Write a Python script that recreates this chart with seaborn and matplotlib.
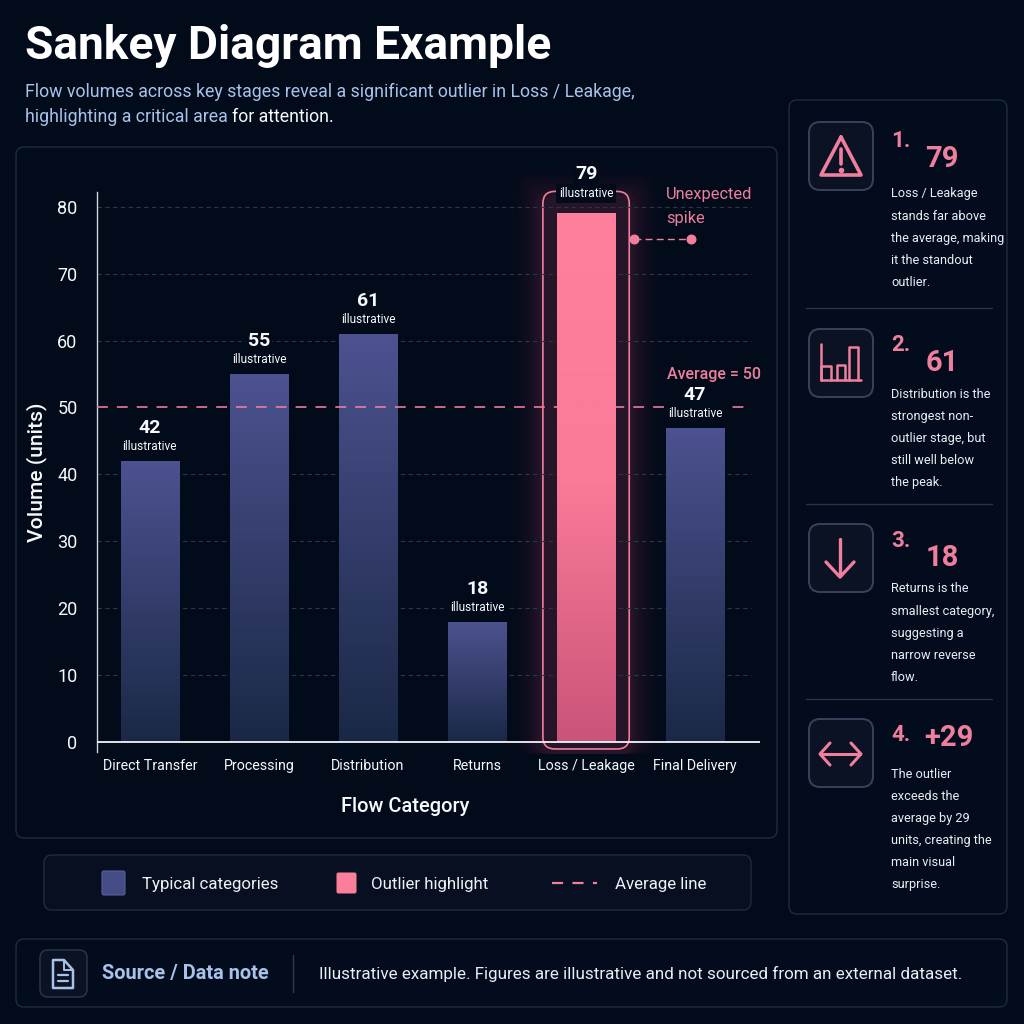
import numpy as np
import pandas as pd
import matplotlib
matplotlib.use("Agg")
import matplotlib.pyplot as plt
from matplotlib.colors import LinearSegmentedColormap
from matplotlib.lines import Line2D
from matplotlib.patches import FancyBboxPatch, Polygon
import seaborn as sns

# Chart data
categories = ["Direct Transfer", "Processing", "Distribution", "Returns", "Loss / Leakage", "Final Delivery"]
volumes = [42, 55, 61, 18, 79, 47]
average = 50
outlier_category = "Loss / Leakage"
y_ticks = [0, 10, 20, 30, 40, 50, 60, 70, 80]

# Side-card content
card_numbers = ["1.", "2.", "3.", "4."]
card_values = ["79", "61", "18", "+29"]
card_texts = [
    ["Loss / Leakage", "stands far above", "the average, making", "it the standout", "outlier."],
    ["Distribution is the", "strongest non-", "outlier stage, but", "still well below", "the peak."],
    ["Returns is the", "smallest category,", "suggesting a", "narrow reverse", "flow."],
    ["The outlier", "exceeds the", "average by 29", "units, creating the", "main visual", "surprise."],
]

BG = "#020b1a"
BORDER = "#1f2c3f"
PINK = "#f07f9c"
PINK_TXT = "#ee7f9d"
BLUE_TXT = "#a9c2ea"
WHITE = "#f7f9fc"

sns.set_theme(style="dark")
plt.rcParams["font.family"] = ["Roboto", "DejaVu Sans"]

fig = plt.figure(figsize=(10.24, 10.24), dpi=100, facecolor=BG)

# Canvas layer in pixel units for panels, cards and icons
back = fig.add_axes([0, 0, 1, 1], zorder=0)
back.set_xlim(0, 1024)
back.set_ylim(1024, 0)
back.axis("off")


def panel(x0, y0, x1, y1, edge=BORDER, face="none", r=8, lw=1.0, a=None, z=1):
    p = FancyBboxPatch((x0 + r, y0 + r), x1 - x0 - 2 * r, y1 - y0 - 2 * r,
                       boxstyle=f"round,pad={r},rounding_size={r}",
                       ec=edge, fc=face, lw=lw, alpha=a, zorder=z)
    back.add_patch(p)
    return p


panel(16, 147, 777, 838)
panel(44, 855, 751, 910, face="#070f20")
panel(789, 100, 1007, 914, face="#030c1c")
panel(16, 939, 1007, 1007, face="#030c1c")

# Title and subtitle
back.text(25, 46, "Sankey Diagram Example", color="#ffffff", fontsize=33.2, fontweight="bold", va="center")
back.text(25, 92, "Flow volumes across key stages reveal a significant outlier in Loss / Leakage,",
          color=BLUE_TXT, fontsize=12.8, va="center")
t_sub = back.text(25, 117, "highlighting a critical area ", color=BLUE_TXT, fontsize=12.8, va="center")
fig.canvas.draw()
sub_end = t_sub.get_window_extent().x1
back.text(sub_end, 117, "for attention.", color=WHITE, fontsize=12.8, va="center")

# Main bar chart
left, right, top, bottom = 97, 760, 192, 752
ax = fig.add_axes([left / 1024, 1 - bottom / 1024, (right - left) / 1024, (bottom - top) / 1024], zorder=2)
ax.patch.set_alpha(0)

frame = pd.DataFrame({"category": categories, "volume": volumes})
sns.barplot(data=frame, x="category", y="volume", order=categories, width=0.535,
            color="#3c4680", saturation=1, linewidth=0, ax=ax, zorder=3)

xlims = (-0.485, 5.595)
ylims = (-1.5, 82.2)
ax.set_xlim(*xlims)
ax.set_ylim(*ylims)
for s in ("top", "right", "bottom"):
    ax.spines[s].set_visible(False)
ax.spines["left"].set_color("#cfd6e0")
ax.spines["left"].set_linewidth(1.0)
ax.axhline(0, color="#f2f4f8", lw=1.3, zorder=6)

ax.set_yticks(y_ticks)
ax.tick_params(axis="y", length=0, pad=14, labelcolor=WHITE, labelsize=13)
ax.tick_params(axis="x", length=0, pad=5, labelcolor=WHITE, labelsize=10.3)
ax.set_ylabel("Volume (units)", color=WHITE, fontsize=15.2, fontweight="medium")
ax.yaxis.set_label_coords((37 - left) / (right - left), 1 - (472 - top) / (bottom - top))
ax.set_xlabel("Flow Category", color=WHITE, fontsize=14.4, fontweight="medium")
ax.xaxis.set_label_coords((405 - left) / (right - left), 1 - (807 - top) / (bottom - top))
ax.xaxis.label.set_va("center")
ax.yaxis.label.set_va("center")

for v in y_ticks[1:]:
    if v != average:
        ax.plot([xlims[0], 5.51], [v, v], color="#2b3749", lw=0.8, ls=(0, (4, 3)), zorder=1)
ax.plot([xlims[0], 5.51], [average, average], color=PINK, lw=1.3, ls=(0, (6, 5)), alpha=0.9, zorder=5)

# Vertical gradients clipped to the bars
blue_map = LinearSegmentedColormap.from_list("typical", ["#1a2846", "#4d5290"])
pink_map = LinearSegmentedColormap.from_list("outlier", ["#cb5479", "#fa7b98", "#ff809c"])
ramp = np.linspace(1, 0, 256).reshape(-1, 1)
bars = list(ax.patches)
for name, bar in zip(categories, bars):
    x0, w, h = bar.get_x(), bar.get_width(), bar.get_height()
    cmap = pink_map if name == outlier_category else blue_map
    img = ax.imshow(ramp, extent=(x0, x0 + w, 0, h), aspect="auto", cmap=cmap, vmin=0, vmax=1, zorder=3.5)
    img.set_clip_path(bar)
ax.set_xlim(*xlims)
ax.set_ylim(*ylims)


def to_px(x, y):
    dx, dy = ax.transData.transform((x, y))
    return dx, 1024 - dy


# Glow and outline around the outlier bar
o_idx = categories.index(outlier_category)
o_bar = bars[o_idx]
bx0, by0 = to_px(o_bar.get_x(), o_bar.get_height())
bx1, by1 = to_px(o_bar.get_x() + o_bar.get_width(), 0)
for pad, alpha in zip(np.arange(50, 14, -4), np.linspace(0.006, 0.035, 9)):
    panel(bx0 - pad, by0 - pad, bx1 + pad, by1 + 12, edge="none", face="#ff5c85", r=14, lw=0, a=alpha, z=1.5)
panel(bx0 - 14, by0 - 22, bx1 + 14, by1 + 7, edge=PINK, r=12, lw=1.2, z=2)

# Value labels above each bar
for name, v, x in zip(categories, volumes, range(len(categories))):
    lift = 6 if name == outlier_category else 0
    ax.annotate("illustrative", (x, v), xytext=(0, 14 + lift), textcoords="offset pixels", ha="center", va="center",
                color=WHITE, fontsize=8.6, zorder=7, bbox=dict(fc=BG, ec="none", pad=2.2))
    ax.annotate(str(v), (x, v), xytext=(0, 33 + lift), textcoords="offset pixels", ha="center", va="center",
                color=WHITE, fontsize=14, fontweight="bold", zorder=7, bbox=dict(fc=BG, ec="none", pad=1.5))

# Annotations next to the outlier
back.text(666, 194, "Unexpected", color=PINK_TXT, fontsize=11.8, va="center")
back.text(666, 218, "spike", color=PINK_TXT, fontsize=11.8, va="center")
back.plot([634, 691], [239, 239], color=PINK, lw=1, ls=(0, (5, 3)), zorder=3)
back.plot([634, 691], [239, 239], ls="none", marker="o", ms=6.2, color=PINK, zorder=3)
back.text(667, 374, "Average = 50", color=PINK_TXT, fontsize=11.5, fontweight="medium", va="center")

# Legend strip
swatch = FancyBboxPatch((104, 873), 19, 20, boxstyle="round,pad=2,rounding_size=2", fc="#454b85", ec="#55609a", lw=0.8, zorder=2)
back.add_patch(swatch)
swatch = FancyBboxPatch((338, 874), 17, 18, boxstyle="round,pad=1.5,rounding_size=2", fc="#fb7f9a", ec="none", zorder=2)
back.add_patch(swatch)
back.plot([552, 597], [883, 883], color=PINK, lw=1.6, ls=(0, (5, 4.2)), zorder=2)
for x, label in zip((142, 371, 615), ("Typical categories", "Outlier highlight", "Average line")):
    back.text(x, 884, label, color="#eef2f8", fontsize=12.2, va="center")


# Card icons
def stroke(xs, ys, color=PINK, lw=2.4):
    back.add_line(Line2D(xs, ys, color=color, lw=lw, solid_capstyle="round", solid_joinstyle="round", zorder=3))


card_tops = [122, 329, 524, 719]
number_y = [141, 345, 541, 735]
value_y = [159, 363, 558, 738]
value_x = [925, 926, 926, 924]
first_line = [194, 394, 589, 774]
for top_y in card_tops:
    panel(809, top_y, 873, top_y + 68, edge="#39425a", face="#0a1224", r=11, lw=1.4, z=2)

stroke([841, 861, 821, 841], [137, 175, 175, 137], lw=2.6)
stroke([841, 841], [149, 164], lw=2.6)
back.plot([841], [169.5], marker="o", ms=3, color=PINK, zorder=3)

base_y = 380
for xa, xb, ya in ((821, 831, 366), (837, 845, 365), (849, 858, 347)):
    stroke([xa, xa, xb, xb], [base_y, ya, ya, base_y], lw=1.8)
stroke([821, 861], [base_y, base_y], lw=1.8)
stroke([821, 821], [344, base_y], lw=1.8)

stroke([840, 840], [539, 576], lw=2.4)
stroke([826, 840, 854], [562, 577, 562], lw=2.4)

stroke([821, 860], [754, 754], lw=2.2)
stroke([830, 820, 830], [743, 754, 765], lw=2.2)
stroke([851, 861, 851], [743, 754, 765], lw=2.2)

# Card text
for num, val, lines, ny, vy, vx, ly in zip(card_numbers, card_values, card_texts, number_y, value_y, value_x, first_line):
    back.text(891, ny, num, color=PINK_TXT, fontsize=16, fontweight="bold", va="center")
    back.text(vx, vy, val, color=PINK_TXT, fontsize=21, fontweight="bold", va="center")
    for i, line in enumerate(lines):
        back.text(891, ly + 22.1 * i, line, color="#e9edf4", fontsize=9.2, va="center")
for y in (308, 504, 699):
    back.plot([806, 992], [y, y], color="#263348", lw=1, zorder=2)

# Source strip
panel(40, 950, 87, 997, edge="#2a3549", face="#0a1224", r=8, lw=1.1, z=2)
doc = Polygon([(53, 960), (64, 960), (73, 970), (73, 988), (53, 988)], closed=True, fill=False,
              ec=BLUE_TXT, lw=1.8, joinstyle="round", zorder=3)
back.add_patch(doc)
stroke([64, 64, 73], [960, 970, 970], color=BLUE_TXT, lw=1.4)
stroke([58, 68], [975, 975], color=BLUE_TXT, lw=1.6)
stroke([58, 68], [981, 981], color=BLUE_TXT, lw=1.6)
back.text(102, 974, "Source / Data note", color=BLUE_TXT, fontsize=14.4, fontweight="bold", va="center")
back.plot([293, 293], [955, 992], color="#2f3b4f", lw=1, zorder=2)
back.text(319, 974, "Illustrative example. Figures are illustrative and not sourced from an external dataset.",
          color="#e9edf4", fontsize=12.25, va="center")

fig.savefig("out.png", dpi=100, facecolor=BG)
